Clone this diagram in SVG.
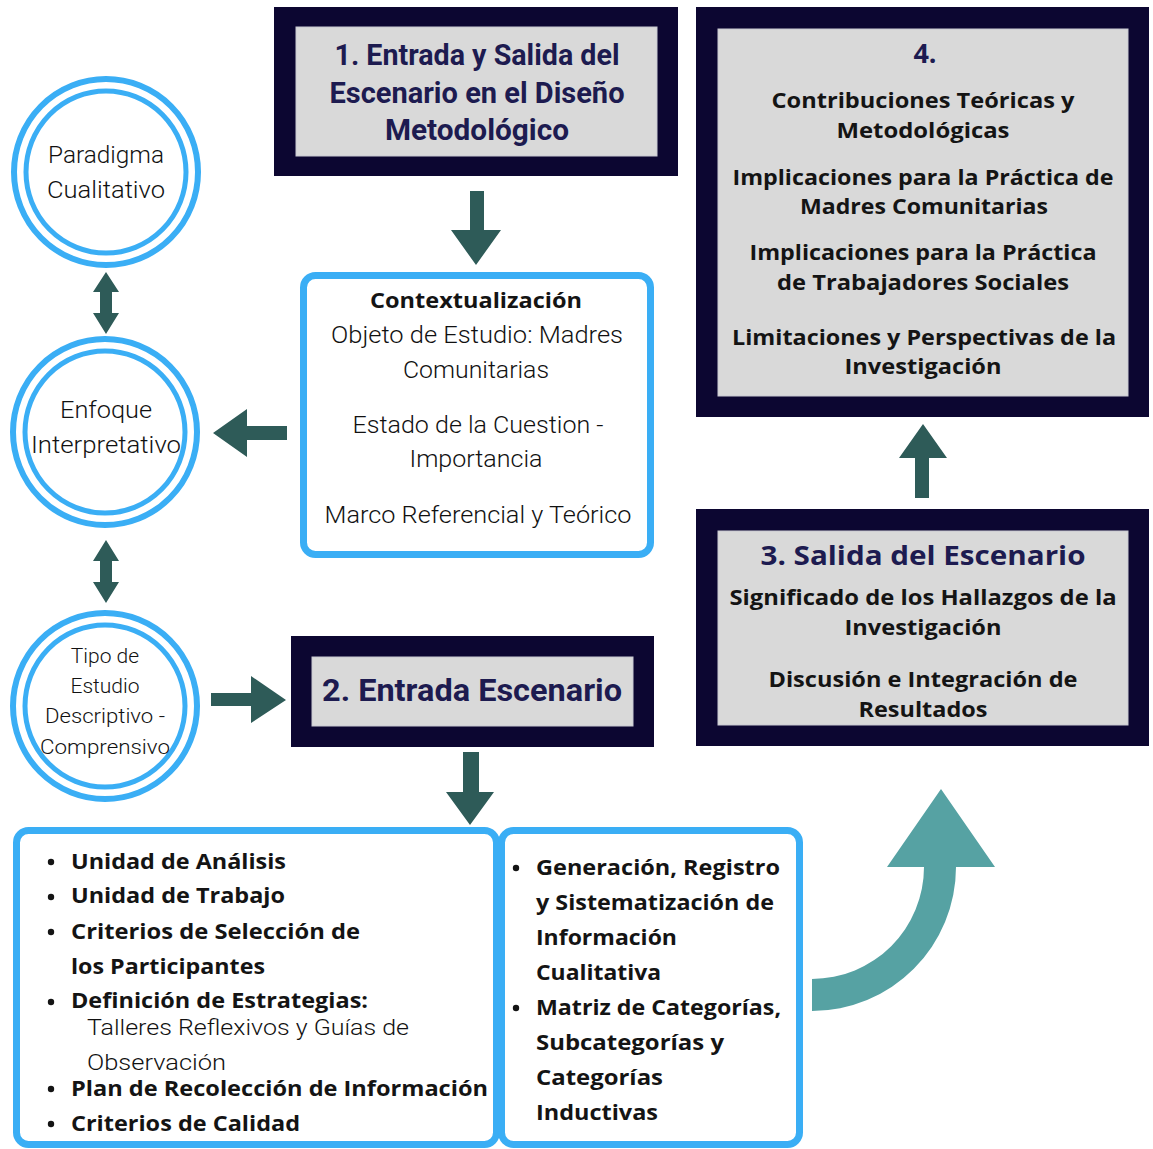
<svg xmlns="http://www.w3.org/2000/svg" width="1153" height="1149" viewBox="0 0 1153 1149">
<style>
.outer{fill:#0c0631}
.inner{fill:#d9d9d9;stroke:#c9c9d2;stroke-width:1}
.ring{fill:none;stroke:#3aaef5}
.bluebox{fill:#ffffff;stroke:#3aaef5;stroke-width:7}
.arrow{fill:#2e5b58}
.curve{fill:#56a2a3}
.ttl{font-family:Roboto,"Liberation Sans",sans-serif;font-weight:700;fill:#1d1b50;text-anchor:middle}
.ttl2{font-family:"Open Sans","Liberation Sans",sans-serif;font-weight:700;fill:#1d1b50;text-anchor:middle}
.body{font-family:"Open Sans","Liberation Sans",sans-serif;font-weight:700;font-size:21px;fill:#141414;text-anchor:middle}
.circ{font-family:Roboto,"Liberation Sans",sans-serif;font-weight:300;fill:#111111;text-anchor:middle}
.ctx{font-family:Roboto,"Liberation Sans",sans-serif;font-weight:300;font-size:23px;fill:#111111;text-anchor:middle}
.ctxb{font-family:"Open Sans","Liberation Sans",sans-serif;font-weight:700;font-size:21px;fill:#141414;text-anchor:middle}
.li{font-family:"Open Sans","Liberation Sans",sans-serif;font-weight:700;font-size:21px;fill:#141414}
.lil{font-family:Roboto,"Liberation Sans",sans-serif;font-weight:300;font-size:22px;fill:#111111}
.dot{fill:#141414}
</style>
<rect width="1153" height="1149" fill="#ffffff"/>

<g id="connectors">
<polygon class="arrow" points="470,191 484,191 484,230 501,230 476,265 451,230 470,230"/>
<polygon class="arrow" points="287,426 287,440 247,440 247,457 213,433 247,409 247,426"/>
<polygon class="arrow" points="106,272 119,292 112,292 112,313 119,313 106,334 93,313 100,313 100,292 93,292"/>
<polygon class="arrow" points="106,540 119,561 112,561 112,582 119,582 106,603 93,582 100,582 100,561 93,561"/>
<polygon class="arrow" points="211,693 251,693 251,676 286,700 251,723 251,706 211,706"/>
<polygon class="arrow" points="463,752 479,752 479,792 494,792 470,825 446,792 463,792"/>
<polygon class="arrow" points="915,498 929,498 929,458 947,458 923,424 899,458 915,458"/>
<path class="curve" d="M812,979 A112,112 0 0 0 924,867 L887,867 L941,789 L995,867 L956,867 A144,144 0 0 1 812,1011 Z"/>
</g>

<g id="box1">
<rect class="outer" x="274" y="7" width="404" height="169"/>
<rect class="inner" x="296" y="27" width="361" height="129"/>
<text class="ttl" x="477" y="65" font-size="30" textLength="285" lengthAdjust="spacingAndGlyphs">1. Entrada y Salida del</text>
<text class="ttl" x="477" y="103" font-size="30" textLength="295" lengthAdjust="spacingAndGlyphs">Escenario en el Diseño</text>
<text class="ttl" x="477" y="140" font-size="30" textLength="184" lengthAdjust="spacingAndGlyphs">Metodológico</text>
</g>

<g id="box4">
<rect class="outer" x="696" y="7" width="453" height="410"/>
<rect class="inner" x="718" y="29" width="410" height="367"/>
<text class="ttl2" x="925" y="63" font-size="27">4.</text>
<text class="body" x="923" y="108" textLength="303" lengthAdjust="spacingAndGlyphs">Contribuciones Teóricas y</text>
<text class="body" x="923" y="138" textLength="173" lengthAdjust="spacingAndGlyphs">Metodológicas</text>
<text class="body" x="923" y="185" textLength="381" lengthAdjust="spacingAndGlyphs">Implicaciones para la Práctica de</text>
<text class="body" x="924" y="214" textLength="248" lengthAdjust="spacingAndGlyphs">Madres Comunitarias</text>
<text class="body" x="923" y="260" textLength="347" lengthAdjust="spacingAndGlyphs">Implicaciones para la Práctica</text>
<text class="body" x="923" y="290" textLength="292" lengthAdjust="spacingAndGlyphs">de Trabajadores Sociales</text>
<text class="body" x="924" y="345" textLength="384" lengthAdjust="spacingAndGlyphs">Limitaciones y Perspectivas de la</text>
<text class="body" x="923" y="374" textLength="157" lengthAdjust="spacingAndGlyphs">Investigación</text>
</g>

<g id="paradigma">
<ellipse class="ring" cx="106" cy="172" rx="92" ry="93" stroke-width="6"/>
<ellipse class="ring" cx="106" cy="172" rx="80" ry="81" stroke-width="5"/>
<text class="circ" x="106" y="163" font-size="24" textLength="116" lengthAdjust="spacingAndGlyphs">Paradigma</text>
<text class="circ" x="106" y="198" font-size="24" textLength="118" lengthAdjust="spacingAndGlyphs">Cualitativo</text>
</g>

<g id="enfoque">
<ellipse class="ring" cx="105" cy="432" rx="92" ry="93" stroke-width="6"/>
<ellipse class="ring" cx="105" cy="432" rx="80" ry="81" stroke-width="5"/>
<text class="circ" x="106" y="418" font-size="24" textLength="92" lengthAdjust="spacingAndGlyphs">Enfoque</text>
<text class="circ" x="106" y="453" font-size="24" textLength="150" lengthAdjust="spacingAndGlyphs">Interpretativo</text>
</g>

<g id="tipo">
<ellipse class="ring" cx="105" cy="706" rx="92" ry="93" stroke-width="6"/>
<ellipse class="ring" cx="105" cy="706" rx="80" ry="81" stroke-width="5"/>
<text class="circ" x="105" y="663" font-size="21">Tipo de</text>
<text class="circ" x="105" y="693" font-size="21">Estudio</text>
<text class="circ" x="105" y="723" font-size="21" textLength="120" lengthAdjust="spacingAndGlyphs">Descriptivo -</text>
<text class="circ" x="105" y="754" font-size="21" textLength="130" lengthAdjust="spacingAndGlyphs">Comprensivo</text>
</g>

<g id="contexto">
<rect class="bluebox" x="303.5" y="275.5" width="347" height="279" rx="12"/>
<text class="ctxb" x="476" y="308" textLength="212" lengthAdjust="spacingAndGlyphs">Contextualización</text>
<text class="ctx" x="477" y="343" textLength="292" lengthAdjust="spacingAndGlyphs">Objeto de Estudio: Madres</text>
<text class="ctx" x="476" y="378" textLength="146" lengthAdjust="spacingAndGlyphs">Comunitarias</text>
<text class="ctx" x="478" y="433" textLength="251" lengthAdjust="spacingAndGlyphs">Estado de la Cuestion -</text>
<text class="ctx" x="476" y="467" textLength="133" lengthAdjust="spacingAndGlyphs">Importancia</text>
<text class="ctx" x="478" y="523" textLength="307" lengthAdjust="spacingAndGlyphs">Marco Referencial y Teórico</text>
</g>

<g id="box2">
<rect class="outer" x="291" y="636" width="363" height="111"/>
<rect class="inner" x="312" y="657" width="321" height="69"/>
<text class="ttl" x="472" y="701" font-size="31" textLength="300" lengthAdjust="spacingAndGlyphs">2. Entrada Escenario</text>
</g>

<g id="box3">
<rect class="outer" x="696" y="509" width="453" height="237"/>
<rect class="inner" x="718" y="531" width="410" height="194"/>
<text class="ttl2" x="923" y="565" font-size="27" textLength="325" lengthAdjust="spacingAndGlyphs">3. Salida del Escenario</text>
<text class="body" x="923" y="605" textLength="387" lengthAdjust="spacingAndGlyphs">Significado de los Hallazgos de la</text>
<text class="body" x="923" y="635" textLength="157" lengthAdjust="spacingAndGlyphs">Investigación</text>
<text class="body" x="923" y="687" textLength="309" lengthAdjust="spacingAndGlyphs">Discusión e Integración de</text>
<text class="body" x="923" y="717" textLength="129" lengthAdjust="spacingAndGlyphs">Resultados</text>
</g>

<g id="bloque-izq">
<rect class="bluebox" x="16.5" y="830.5" width="480" height="314" rx="12"/>
<circle class="dot" cx="51" cy="862" r="3.2"/>
<text class="li" x="71" y="869" textLength="215" lengthAdjust="spacingAndGlyphs">Unidad de Análisis</text>
<circle class="dot" cx="51" cy="897" r="3.2"/>
<text class="li" x="71" y="903" textLength="214" lengthAdjust="spacingAndGlyphs">Unidad de Trabajo</text>
<circle class="dot" cx="51" cy="932" r="3.2"/>
<text class="li" x="71" y="939" textLength="289" lengthAdjust="spacingAndGlyphs">Criterios de Selección de</text>
<text class="li" x="71" y="974" textLength="194" lengthAdjust="spacingAndGlyphs">los Participantes</text>
<circle class="dot" cx="51" cy="1002" r="3.2"/>
<text class="li" x="71" y="1008" textLength="297" lengthAdjust="spacingAndGlyphs">Definición de Estrategias:</text>
<text class="lil" x="87" y="1035" textLength="322" lengthAdjust="spacingAndGlyphs">Talleres Reflexivos y Guías de</text>
<text class="lil" x="87" y="1070" textLength="139" lengthAdjust="spacingAndGlyphs">Observación</text>
<circle class="dot" cx="51" cy="1089" r="3.2"/>
<text class="li" x="71" y="1096" textLength="417" lengthAdjust="spacingAndGlyphs">Plan de Recolección de Información</text>
<circle class="dot" cx="51" cy="1124" r="3.2"/>
<text class="li" x="71" y="1131" textLength="229" lengthAdjust="spacingAndGlyphs">Criterios de Calidad</text>
</g>

<g id="bloque-der">
<rect class="bluebox" x="501.5" y="830.5" width="298" height="314" rx="12"/>
<circle class="dot" cx="516" cy="868" r="3.2"/>
<text class="li" x="536" y="875" textLength="244" lengthAdjust="spacingAndGlyphs">Generación, Registro</text>
<text class="li" x="536" y="910" textLength="238" lengthAdjust="spacingAndGlyphs">y Sistematización de</text>
<text class="li" x="536" y="945" textLength="141" lengthAdjust="spacingAndGlyphs">Información</text>
<text class="li" x="536" y="980" textLength="125" lengthAdjust="spacingAndGlyphs">Cualitativa</text>
<circle class="dot" cx="516" cy="1008" r="3.2"/>
<text class="li" x="536" y="1015" textLength="245" lengthAdjust="spacingAndGlyphs">Matriz de Categorías,</text>
<text class="li" x="536" y="1050" textLength="188" lengthAdjust="spacingAndGlyphs">Subcategorías y</text>
<text class="li" x="536" y="1085" textLength="127" lengthAdjust="spacingAndGlyphs">Categorías</text>
<text class="li" x="536" y="1120" textLength="122" lengthAdjust="spacingAndGlyphs">Inductivas</text>
</g>
</svg>
